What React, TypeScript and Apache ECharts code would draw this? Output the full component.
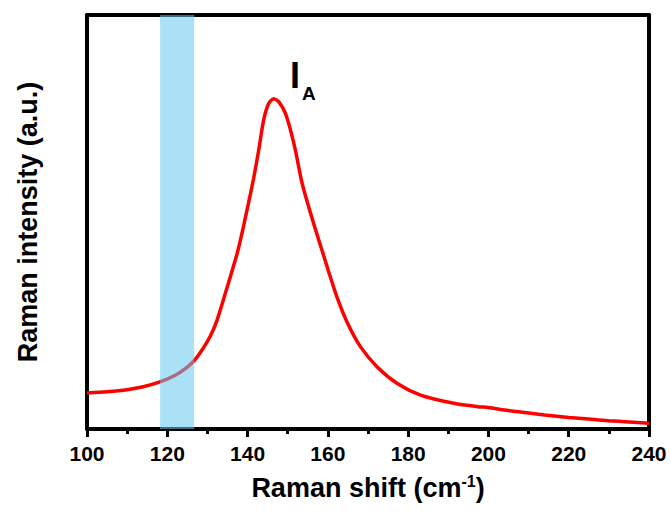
import React, { useEffect, useRef } from "react";
import * as echarts from "echarts";

const shiftValues = [100, 105, 110, 114, 118, 122, 124.5, 126.5, 128.2, 130.7, 132.4, 134.9, 137.4, 139.0, 141.5, 142.8, 144.0, 145.2, 146.5, 147.8, 149.4, 150.7, 151.9, 153.6, 156.1, 158.6, 160.2, 162.3, 164.8, 168.1, 172.3, 177.3, 183.1, 191.4, 197.3, 200, 204, 208, 214, 220, 225, 230, 235, 240];
const intensityValues = [8.7, 9.0, 9.5, 10.2, 11.3, 13.0, 14.6, 16.3, 18.4, 22.4, 26.3, 34.2, 42.4, 49.0, 60.5, 67.5, 74.6, 78.5, 79.8, 79.0, 76.3, 72.2, 67.4, 59.3, 50.8, 43.0, 38.0, 31.8, 25.8, 19.9, 15.0, 11.0, 8.2, 6.2, 5.4, 5.2, 4.6, 4.1, 3.4, 2.8, 2.4, 2.0, 1.7, 1.4];
const bandRange = [118.2, 126.7];
const xTicks = [100, 120, 140, 160, 180, 200, 220, 240];

const FONT = "'Liberation Sans', Arial, sans-serif";

export default function App() {
  const ref = useRef<HTMLDivElement>(null);
  useEffect(() => {
    if (!ref.current) return;
    const chart = echarts.init(ref.current, null, { renderer: "svg" });
    const lineStyle = { color: "#000", width: 4 };
    chart.setOption({
      animation: false,
      grid: { left: 87, right: 22, top: 15, bottom: 82 },
      xAxis: [
        {
          type: "value",
          min: xTicks[0],
          max: xTicks[xTicks.length - 1],
          interval: 20,
          position: "bottom",
          axisLine: { show: true, onZero: false, lineStyle },
          axisTick: { show: true, inside: false, length: 8, lineStyle: { color: "#000", width: 3 } },
          minorTick: { show: true, splitNumber: 2, length: 5, lineStyle: { color: "#000", width: 3 } },
          splitLine: { show: false },
          axisLabel: { color: "#000", fontFamily: FONT, fontWeight: "bold", fontSize: 21, margin: 14 },
          name: "{a|Raman shift (cm}{s|-1}{a|)}",
          nameLocation: "middle",
          nameGap: 44,
          nameTextStyle: {
            rich: {
              a: { fontFamily: FONT, fontWeight: "bold", fontSize: 27, color: "#000" },
              s: { fontFamily: FONT, fontWeight: "bold", fontSize: 16, color: "#000", verticalAlign: "top", padding: [0, 0, 14, 0] },
            },
          },
        },
        {
          type: "value",
          min: xTicks[0],
          max: xTicks[xTicks.length - 1],
          position: "top",
          axisLine: { show: true, onZero: false, lineStyle },
          axisTick: { show: false },
          axisLabel: { show: false },
          splitLine: { show: false },
        },
      ],
      yAxis: [
        {
          type: "value",
          min: 0,
          max: 100,
          position: "left",
          axisLine: { show: true, onZero: false, lineStyle },
          axisTick: { show: false },
          axisLabel: { show: false },
          splitLine: { show: false },
          name: "Raman intensity (a.u.)",
          nameLocation: "middle",
          nameGap: 46,
          nameTextStyle: { fontFamily: FONT, fontWeight: "bold", fontSize: 27, color: "#000" },
        },
        {
          type: "value",
          min: 0,
          max: 100,
          position: "right",
          axisLine: { show: true, onZero: false, lineStyle },
          axisTick: { show: false },
          axisLabel: { show: false },
          splitLine: { show: false },
        },
      ],
      series: [
        {
          type: "line",
          data: shiftValues.map((x, i) => [x, intensityValues[i]]),
          showSymbol: false,
          symbol: "none",
          smooth: 0.25,
          lineStyle: { color: "#ff0000", width: 3.5 },
          z: 2,
          markArea: {
            silent: true,
            z: 5,
            itemStyle: { color: "rgba(100,200,240,0.55)" },
            data: [[{ xAxis: bandRange[0] }, { xAxis: bandRange[1] }]],
          },
        },
      ],
      graphic: [
        {
          type: "text",
          left: 290,
          top: 57,
          style: { text: "I", fontFamily: FONT, fontWeight: "bold", fontSize: 36, fill: "#000" },
        },
        {
          type: "text",
          left: 302,
          top: 84,
          style: { text: "A", fontFamily: FONT, fontWeight: "bold", fontSize: 19, fill: "#000" },
        },
      ],
    });
    return () => chart.dispose();
  }, []);
  return <div ref={ref} style={{ position: "fixed", left: 0, top: 0, width: 671, height: 511, background: "#fff" }} />;
}
